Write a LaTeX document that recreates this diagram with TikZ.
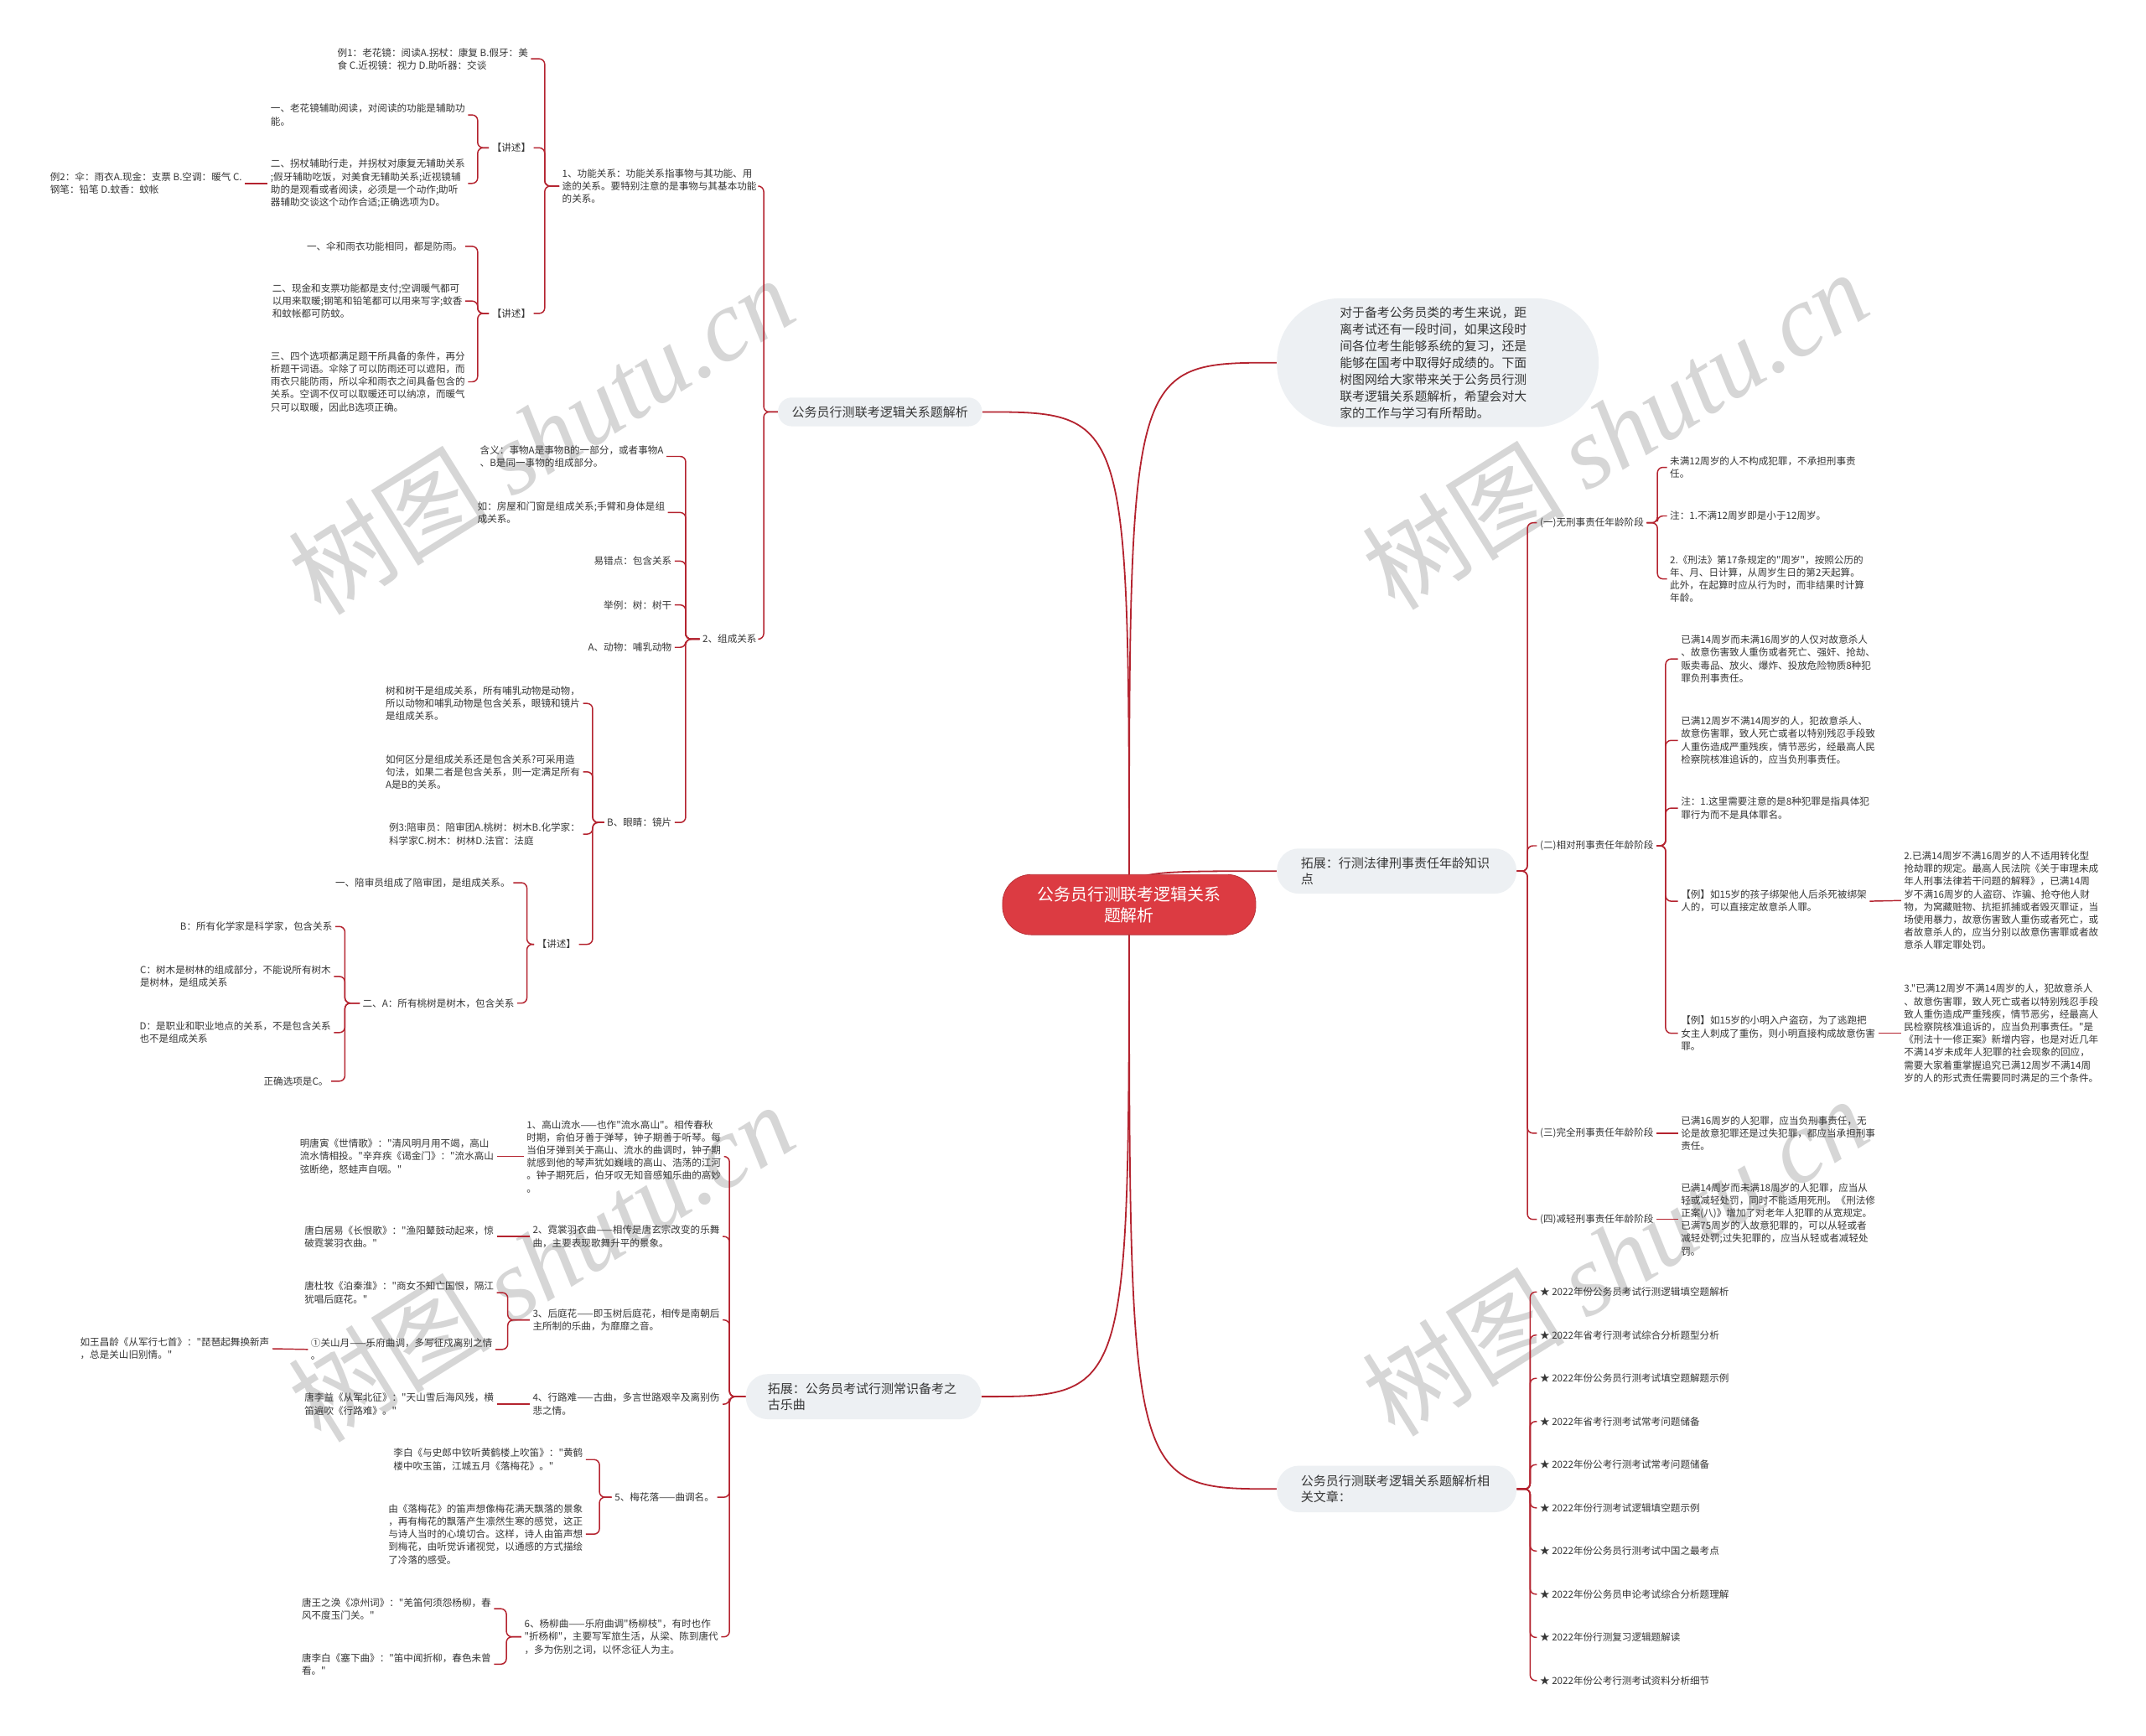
\documentclass[tikz,border=0pt]{standalone}
\usepackage{fontspec}
\setmainfont{Noto Sans CJK SC}[Ligatures=TeXOff]
\newfontfamily\wmlatin{Liberation Serif}
\usetikzlibrary{backgrounds}
\definecolor{lred}{HTML}{B4232F}
\definecolor{rootred}{HTML}{DC3B42}
\definecolor{pillfill}{HTML}{EDF0F3}
\definecolor{tdark}{HTML}{363636}
\definecolor{wmgray}{HTML}{D6D6D6}
\newcommand\mmsmall{\fontsize{7.1}{9.3}\selectfont}
\newcommand\mmpill{\fontsize{9.2}{12}\selectfont}
\newcommand\mmintro{\fontsize{9.1}{12.3}\selectfont}
\newcommand\mmroot{\fontsize{12.2}{15.3}\selectfont}
\newcommand\mmL[3]{\foreach \mmc in {#3}{\draw[conn] (#1.west) -- (#1.west -| #2) |- (\mmc.east);}}
\newcommand\mmR[3]{\foreach \mmc in {#3}{\draw[conn] (#1.east) -- (#1.east -| #2) |- (\mmc.west);}}
\begin{document}
\begin{tikzpicture}[x=1pt,y=-1pt,
  txt/.style={font=\mmsmall, text=tdark, align=left, inner sep=2pt},
  L/.style={txt, anchor=east},
  R/.style={txt, anchor=west},
  pill/.style={fill=pillfill, text=tdark, font=\mmpill, rounded corners=16pt, inner sep=0pt, align=left},
  conn/.style={draw=lred, line width=0.9pt, rounded corners=4pt},
  rconn/.style={draw=lred, line width=1.1pt},
  wm/.style={text=wmgray, font=\fontsize{74}{80}\selectfont, rotate=32, inner sep=0pt}]
\useasboundingbox (0,0) rectangle (1568,1268);

% ---------- root ----------
\node[fill=rootred, draw=rootred!85!black, line width=0.5pt, text=white, font=\mmroot, align=center,
      rounded corners=21pt, minimum width=185pt, minimum height=44pt, inner sep=0pt] (root) at (825,661)
      {公务员行测联考逻辑关系\\题解析};

% ---------- left branch A ----------
\node[pill, rounded corners=10pt, minimum width=149pt, minimum height=21pt, align=center] (A) at (643,301) {公务员行测联考逻辑关系题解析};
\coordinate (kA) at (558,0);
\node[L] (A1) at (555,136) {1、功能关系：功能关系指事物与其功能、用\\途的关系。要特别注意的是事物与其基本功能\\的关系。};
\node[L] (A2) at (555,467) {2、组成关系};
\coordinate (kA1) at (398,0);
\node[L] (A1a) at (388,43) {例1：老花镜：阅读A.拐杖：康复 B.假牙：美\\食 C.近视镜：视力 D.助听器：交谈};
\node[L] (A1b) at (390,108) {【讲述】};
\node[L] (A1c) at (390,229) {【讲述】};
\coordinate (kA1b) at (349,0);
\node[L] (A1b1) at (342,84) {一、老花镜辅助阅读，对阅读的功能是辅助功\\能。};
\node[L] (A1b2) at (342,134) {二、拐杖辅助行走，并拐杖对康复无辅助关系\\;假牙辅助吃饭，对美食无辅助关系;近视镜辅\\助的是观看或者阅读，必须是一个动作;助听\\器辅助交谈这个动作合适;正确选项为D。};
\node[L] (A1b2x) at (179,134) {例2：伞：雨衣A.现金：支票 B.空调：暖气 C.\\钢笔：铅笔 D.蚊香：蚊帐};
\node[L] (A1c1) at (340,180) {一、伞和雨衣功能相同，都是防雨。};
\node[L] (A1c2) at (340,220) {二、现金和支票功能都是支付;空调暖气都可\\以用来取暖;钢笔和铅笔都可以用来写字;蚊香\\和蚊帐都可防蚊。};
\node[L] (A1c3) at (342,279) {三、四个选项都满足题干所具备的条件，再分\\析题干词语。伞除了可以防雨还可以遮阳，而\\雨衣只能防雨，所以伞和雨衣之间具备包含的\\关系。空调不仅可以取暖还可以纳凉，而暖气\\只可以取暖，因此B选项正确。};
\coordinate (kA2) at (501,0);
\node[L] (A2a) at (487,333.5) {含义：事物A是事物B的一部分，或者事物A\\、B是同一事物的组成部分。};
\node[L] (A2b) at (488,374.5) {如：房屋和门窗是组成关系;手臂和身体是组\\成关系。};
\node[L] (A2c) at (493,410) {易错点：包含关系};
\node[L] (A2d) at (493,442) {举例：树：树干};
\node[L] (A2e) at (493,473) {A、动物：哺乳动物};
\node[L] (A2f) at (493,601) {B、眼睛：镜片};
\coordinate (kA2f) at (433,0);
\node[L] (A2f1) at (426,514) {树和树干是组成关系，所有哺乳动物是动物，\\所以动物和哺乳动物是包含关系，眼镜和镜片\\是组成关系。};
\node[L] (A2f2) at (426,564) {如何区分是组成关系还是包含关系?可采用造\\句法，如果二者是包含关系，则一定满足所有\\A是B的关系。};
\node[L] (A2f3) at (426,609.5) {例3:陪审员：陪审团A.桃树：树木B.化学家：\\科学家C.树木：树林D.法官：法庭};
\node[L] (A2f4) at (423,690) {【讲述】};
\coordinate (kA2f4) at (385,0);
\node[L] (A2f4a) at (375,645) {一、陪审员组成了陪审团，是组成关系。};
\node[L] (A2f4b) at (378,733) {二、A：所有桃树是树木，包含关系};
\coordinate (kA2g) at (252,0);
\node[L] (A2g1) at (245,677) {B：所有化学家是科学家，包含关系};
\node[L] (A2g2) at (244,713.5) {C：树木是树林的组成部分，不能说所有树木\\是树林，是组成关系};
\node[L] (A2g3) at (244,754.5) {D：是职业和职业地点的关系，不是包含关系\\也不是组成关系};
\node[L] (A2g4) at (242,790) {正确选项是C。};

% ---------- left branch B ----------
\node[pill, minimum width=172pt, minimum height=33pt, text width=140pt] (B) at (631,1020.5) {拓展：公务员考试行测常识备考之\\古乐曲};
\coordinate (kB) at (533,0);
\node[L] (B1) at (529,845) {1、高山流水——也作"流水高山"。相传春秋\\时期，俞伯牙善于弹琴，钟子期善于听琴。每\\当伯牙弹到关于高山、流水的曲调时，钟子期\\就感到他的琴声犹如巍峨的高山、浩荡的江河\\。钟子期死后，伯牙叹无知音感知乐曲的高妙\\。};
\node[L] (B1x) at (363,845) {明唐寅《世情歌》："清风明月用不竭，高山\\流水情相投。"辛弃疾《谒金门》："流水高山\\弦断绝，怒蛙声自咽。"};
\node[L] (B2) at (528,903.5) {2、霓裳羽衣曲——相传是唐玄宗改变的乐舞\\曲，主要表现歌舞升平的景象。};
\node[L] (B2x) at (363,903.5) {唐白居易《长恨歌》："渔阳鼙鼓动起来，惊\\破霓裳羽衣曲。"};
\node[L] (B3) at (528,964.5) {3、后庭花——即玉树后庭花，相传是南朝后\\主所制的乐曲，为靡靡之音。};
\coordinate (kB3) at (371,0);
\node[L] (B3a) at (363,944.5) {唐杜牧《泊秦淮》："商女不知亡国恨，隔江\\犹唱后庭花。"};
\node[L] (B3b) at (362,986) {①关山月——乐府曲调，多写征戍离别之情\\。};
\node[L] (B3bx) at (199,985.5) {如王昌龄《从军行七首》："琵琶起舞换新声\\，总是关山旧别情。"};
\node[L] (B4) at (528,1026) {4、行路难——古曲，多言世路艰辛及离别伤\\悲之情。};
\node[L] (B4x) at (363,1026) {唐李益《从军北征》："天山雪后海风残，横\\笛遍吹《行路难》。"};
\node[L] (B5) at (524,1094) {5、梅花落——曲调名。};
\coordinate (kB5) at (438,0);
\node[L] (B5a) at (428,1066.5) {李白《与史郎中钦听黄鹤楼上吹笛》："黄鹤\\楼中吹玉笛，江城五月《落梅花》。"};
\node[L] (B5b) at (428,1121) {由《落梅花》的笛声想像梅花满天飘落的景象\\，再有梅花的飘落产生凛然生寒的感觉，这正\\与诗人当时的心境切合。这样，诗人由笛声想\\到梅花，由听觉诉诸视觉，以通感的方式描绘\\了冷落的感受。};
\node[L] (B6) at (527,1196) {6、杨柳曲——乐府曲调"杨柳枝"，有时也作\\"折杨柳"，主要写军旅生活，从梁、陈到唐代\\，多为伤别之词，以怀念征人为主。};
\coordinate (kB6) at (370,0);
\node[L] (B6a) at (361,1175.5) {唐王之涣《凉州词》："羌笛何须怨杨柳，春\\风不度玉门关。"};
\node[L] (B6b) at (361,1216) {唐李白《塞下曲》："笛中闻折柳，春色未曾\\看。"};

% ---------- right: intro ----------
\node[pill, font=\mmintro, rounded corners=46pt, minimum width=235pt, minimum height=94pt, text width=143pt] (I) at (1050.5,265)
  {对于备考公务员类的考生来说，距\\离考试还有一段时间，如果这段时\\间各位考生能够系统的复习，还是\\能够在国考中取得好成绩的。下面\\树图网给大家带来关于公务员行测\\联考逻辑关系题解析，希望会对大\\家的工作与学习有所帮助。};

% ---------- right: branch C ----------
\node[pill, minimum width=175pt, minimum height=33pt, text width=140pt] (C) at (1020.5,636.5) {拓展：行测法律刑事责任年龄知识\\点};
\coordinate (kC) at (1116,0);
\node[R] (C1) at (1123,382) {(一)无刑事责任年龄阶段};
\node[R] (C2) at (1123,618) {(二)相对刑事责任年龄阶段};
\node[R] (C3) at (1123,828) {(三)完全刑事责任年龄阶段};
\node[R] (C4) at (1123,891) {(四)减轻刑事责任年龄阶段};
\coordinate (kC1) at (1211,0);
\node[R] (C1a) at (1218,341.5) {未满12周岁的人不构成犯罪，不承担刑事责\\任。};
\node[R] (C1b) at (1218,377) {注：1.不满12周岁即是小于12周岁。};
\node[R] (C1c) at (1218,423) {2.《刑法》第17条规定的"周岁"，按照公历的\\年、月、日计算，从周岁生日的第2天起算。\\此外，在起算时应从行为时，而非结果时计算\\年龄。};
\coordinate (kC2) at (1217,0);
\node[R] (C2a) at (1226,481.5) {已满14周岁而未满16周岁的人仅对故意杀人\\、故意伤害致人重伤或者死亡、强奸、抢劫、\\贩卖毒品、放火、爆炸、投放危险物质8种犯\\罪负刑事责任。};
\node[R] (C2b) at (1226,541) {已满12周岁不满14周岁的人，犯故意杀人、\\故意伤害罪，致人死亡或者以特别残忍手段致\\人重伤造成严重残疾，情节恶劣，经最高人民\\检察院核准追诉的，应当负刑事责任。};
\node[R] (C2c) at (1226,590.5) {注：1.这里需要注意的是8种犯罪是指具体犯\\罪行为而不是具体罪名。};
\node[R] (C2d) at (1226,658.5) {【例】如15岁的孩子绑架他人后杀死被绑架\\人的，可以直接定故意杀人罪。};
\node[R] (C2dx) at (1389,658) {2.已满14周岁不满16周岁的人不适用转化型\\抢劫罪的规定。最高人民法院《关于审理未成\\年人刑事法律若干问题的解释》，已满14周\\岁不满16周岁的人盗窃、诈骗、抢夺他人财\\物，为窝藏赃物、抗拒抓捕或者毁灭罪证，当\\场使用暴力，故意伤害致人重伤或者死亡，或\\者故意杀人的，应当分别以故意伤害罪或者故\\意杀人罪定罪处罚。};
\node[R] (C2e) at (1226,755) {【例】如15岁的小明入户盗窃，为了逃跑把\\女主人刺成了重伤，则小明直接构成故意伤害\\罪。};
\node[R] (C2ex) at (1389,755) {3."已满12周岁不满14周岁的人，犯故意杀人\\、故意伤害罪，致人死亡或者以特别残忍手段\\致人重伤造成严重残疾，情节恶劣，经最高人\\民检察院核准追诉的，应当负刑事责任。"是\\《刑法十一修正案》新增内容，也是对近几年\\不满14岁未成年人犯罪的社会现象的回应，\\需要大家着重掌握追究已满12周岁不满14周\\岁的人的形式责任需要同时满足的三个条件。};
\node[R] (C3x) at (1226,828) {已满16周岁的人犯罪，应当负刑事责任，无\\论是故意犯罪还是过失犯罪，都应当承担刑事\\责任。};
\node[R] (C4x) at (1226,891) {已满14周岁而未满18周岁的人犯罪，应当从\\轻或减轻处罚，同时不能适用死刑。《刑法修\\正案(八)》增加了对老年人犯罪的从宽规定。\\已满75周岁的人故意犯罪的，可以从轻或者\\减轻处罚;过失犯罪的，应当从轻或者减轻处\\罚。};

% ---------- right: branch D ----------
\node[pill, minimum width=175pt, minimum height=34pt, text width=140pt] (D) at (1020.5,1088) {公务员行测联考逻辑关系题解析相\\关文章：};
\coordinate (kD) at (1118,0);
\foreach \t [count=\i] in {2022年份公务员考试行测逻辑填空题解析, 2022年省考行测考试综合分析题型分析, 2022年份公务员行测考试填空题解题示例, 2022年省考行测考试常考问题储备, 2022年份公考行测考试常考问题储备, 2022年份行测考试逻辑填空题示例, 2022年份公务员行测考试中国之最考点, 2022年份公务员申论考试综合分析题理解, 2022年份行测复习逻辑题解读, 2022年份公考行测考试资料分析细节}
  \node[R] (D\i) at (1123, 912.45+31.55*\i) {★ \t};

% ---------- background: watermark + connectors ----------
\begin{scope}[on background layer]
  \fill[white] (0,0) rectangle (1568,1268);
  \node[wm] (wm1) at (395,318) {树图 {\wmlatin\itshape shutu.cn}};
  \node[wm] (wm2) at (1180,314) {树图 {\wmlatin\itshape shutu.cn}};
  \node[wm] (wm3) at (395,922) {树图 {\wmlatin\itshape shutu.cn}};
  \node[wm] (wm4) at (1180,918) {树图 {\wmlatin\itshape shutu.cn}};

  \draw[rconn] (root.center) .. controls (root.center |- A.east) .. (A.east);
  \draw[rconn] (root.center) .. controls (root.center |- B.east) .. (B.east);
  \draw[rconn] (root.center) .. controls (root.center |- I.west) .. (I.west);
  \draw[rconn] (root.center) .. controls (root.center |- C.west) .. (C.west);
  \draw[rconn] (root.center) .. controls (root.center |- D.west) .. (D.west);

  \mmL{A}{kA}{A1,A2}
  \mmL{A1}{kA1}{A1a,A1b,A1c}
  \mmL{A1b}{kA1b}{A1b1,A1b2}
  \mmL{A1c}{kA1b}{A1c1,A1c2,A1c3}
  \draw[conn] (A1b2.west) -- (A1b2x.east);
  \mmL{A2}{kA2}{A2a,A2b,A2c,A2d,A2e,A2f}
  \mmL{A2f}{kA2f}{A2f1,A2f2,A2f3,A2f4}
  \mmL{A2f4}{kA2f4}{A2f4a,A2f4b}
  \mmL{A2f4b}{kA2g}{A2g1,A2g2,A2g3,A2g4}

  \mmL{B}{kB}{B1,B2,B3,B4,B5,B6}
  \draw[conn] (B1.west) -- (B1x.east);
  \draw[conn] (B2.west) -- (B2x.east);
  \mmL{B3}{kB3}{B3a,B3b}
  \draw[conn] (B3b.west) -- (B3bx.east);
  \draw[conn] (B4.west) -- (B4x.east);
  \mmL{B5}{kB5}{B5a,B5b}
  \mmL{B6}{kB6}{B6a,B6b}

  \mmR{C}{kC}{C1,C2,C3,C4}
  \mmR{C1}{kC1}{C1a,C1b,C1c}
  \mmR{C2}{kC2}{C2a,C2b,C2c,C2d,C2e}
  \draw[conn] (C2d.east) -- (C2dx.west);
  \draw[conn] (C2e.east) -- (C2ex.west);
  \draw[conn] (C3.east) -- (C3x.west);
  \draw[conn] (C4.east) -- (C4x.west);

  \mmR{D}{kD}{D1,D2,D3,D4,D5,D6,D7,D8,D9,D10}
\end{scope}
\end{tikzpicture}
\end{document}
